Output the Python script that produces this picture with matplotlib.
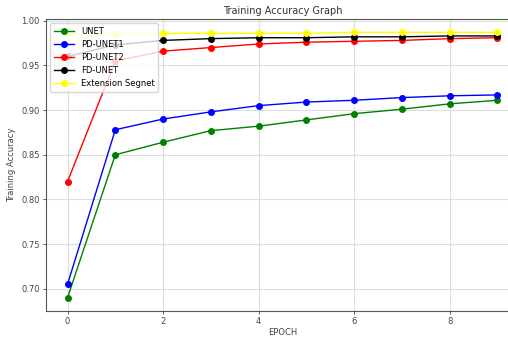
import matplotlib
matplotlib.use("Agg")
import matplotlib.pyplot as plt

epochs = list(range(10))
unet = [0.690, 0.850, 0.864, 0.877, 0.882, 0.889, 0.896, 0.901, 0.907, 0.911]
pd_unet1 = [0.705, 0.878, 0.890, 0.898, 0.905, 0.909, 0.911, 0.914, 0.916, 0.917]
pd_unet2 = [0.820, 0.955, 0.966, 0.970, 0.974, 0.976, 0.977, 0.978, 0.980, 0.981]
fd_unet = [0.960, 0.973, 0.978, 0.980, 0.981, 0.981, 0.982, 0.982, 0.983, 0.983]
ext_segnet = [0.985, 0.985, 0.986, 0.986, 0.986, 0.986, 0.987, 0.987, 0.987, 0.987]

fig = plt.figure(figsize=(5.08, 3.41), dpi=100)
ax = fig.add_axes([0.0906, 0.088, 0.931, 0.856])

ax.plot(epochs, unet, color='green', marker='o', ms=4, lw=1, label='UNET')
ax.plot(epochs, pd_unet1, color='blue', marker='o', ms=4, lw=1, label='PD-UNET1')
ax.plot(epochs, pd_unet2, color='red', marker='o', ms=4, lw=1, label='PD-UNET2')
ax.plot(epochs, fd_unet, color='black', marker='o', ms=4, lw=1, label='FD-UNET')
ax.plot(epochs, ext_segnet, color='yellow', marker='o', ms=4, lw=1, label='Extension Segnet')

ax.set_title('Training Accuracy Graph', fontsize=7, color='#333333', pad=4)
ax.set_xlabel('EPOCH', fontsize=6, color='#444444', labelpad=1)
ax.set_ylabel('Training Accuracy', fontsize=6, color='#444444')
ax.tick_params(labelsize=6, colors='#444444', length=2.5, width=0.6, pad=2)
ax.set_xticks([0, 2, 4, 6, 8])
ax.set_yticks([0.70, 0.75, 0.80, 0.85, 0.90, 0.95, 1.00])
ax.grid(True, color='#dddddd', lw=0.8)
for s in ax.spines.values():
    s.set_color('#555555')
    s.set_linewidth(0.8)
ax.legend(loc='upper left', fontsize=6, handlelength=2.5)

fig.savefig('out.png', dpi=100)
